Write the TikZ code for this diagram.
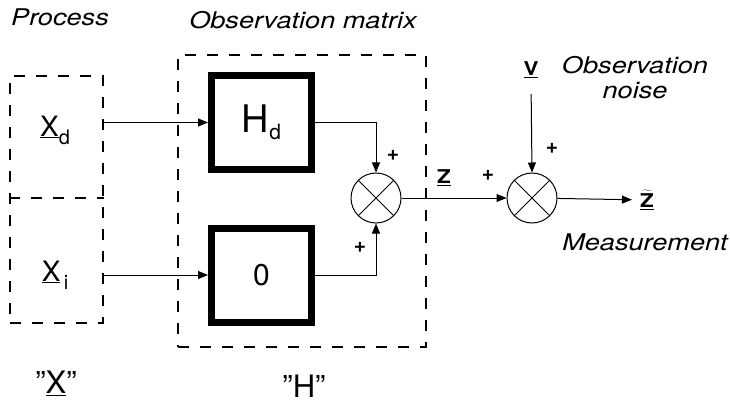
\documentclass[tikz,border=0pt]{standalone}
\usepackage{fontspec}
\setmainfont{TeX Gyre Heros}
\newfontfamily\notefont[FakeStretch=1.18]{TeX Gyre Heros}
\usetikzlibrary{arrows.meta}

\begin{document}
\begin{tikzpicture}[x=1pt,y=-1pt,>={Triangle[length=10pt,width=8pt]},
  dashbox/.style={draw,dash pattern=on 11pt off 11pt,line width=1.1pt,inner sep=0},
  blockbox/.style={draw,line width=7pt,minimum width=100,minimum height=94,inner sep=0,font=\fontsize{30}{30}\selectfont},
  sumnode/.style={circle,draw,line width=1pt,minimum size=50,inner sep=0,
    path picture={\draw[line width=1pt] (path picture bounding box.north west) -- (path picture bounding box.south east)
      (path picture bounding box.north east) -- (path picture bounding box.south west);}},
  note/.style={font=\notefont\itshape\fontsize{23}{25}\selectfont,align=center,inner sep=1pt},
  sign/.style={font=\bfseries\fontsize{21}{21}\selectfont,inner sep=0},
  sym/.style={inner sep=2pt},
  sig/.style={inner sep=2pt,font=\notefont\bfseries\fontsize{19}{19}\selectfont}]
  \useasboundingbox (0,0) rectangle (730,406);
  % headings
  \node[note] (process) at (60,17) {Process};
  \node[note] (obsmat) at (303,20) {Observation matrix};
  % dashed groups
  \node[dashbox,minimum width=93,minimum height=247] (xbox) at (56.5,199.5) {};
  \draw[dash pattern=on 11pt off 11pt,line width=1.1pt] (xbox.west |- 0,198) -- (xbox.east |- 0,198);
  \node[dashbox,minimum width=248,minimum height=292] (hbox) at (302,201) {};
  % states
  \node[sym,font=\fontsize{28}{28}\selectfont] (xd) at (55,130) {\underline{X}\raisebox{-8pt}{\fontsize{20}{20}\selectfont d}};
  \node[sym,font=\fontsize{28}{28}\selectfont] (xi) at (55,275) {\underline{X}\raisebox{-8pt}{\fontsize{20}{20}\selectfont\,i}};
  % blocks
  \node[blockbox] (hd) at (261.5,122.5) {\fontsize{38}{38}\selectfont H\raisebox{-7pt}{\fontsize{21}{21}\selectfont d}};
  \node[blockbox] (zero) at (261.5,275) {0};
  \node[sumnode] (sum1) at (376,198) {};
  \node[sumnode] (sum2) at (532,198) {};
  % signals
  \node[sig] (z) at (444,178) {\underline{Z}};
  \node[sig] (v) at (531,70) {\underline{V}};
  \node[sig] (zt) at (647,200) {$\underline{\widetilde{\mbox{Z}}}$};
  \node[note] (noise) at (635,78) {Observation\\noise};
  \node[note] (meas) at (645,242) {Measurement};
  % signs
  \node[sign] (p1) at (393,155) {+};
  \node[sign] (p2) at (360,247) {+};
  \node[sign] (p3) at (488,175) {+};
  \node[sign] (p4) at (552,148) {+};
  % group names
  \node[font=\fontsize{31}{31}\selectfont] (qx) at (56,383) {"\underline{X}"};
  \node[font=\fontsize{31}{31}\selectfont] (qh) at (304,386) {"H"};
  % connectors
  \draw[->,line width=1pt] (xbox.east |- hd) -- (hd.west);
  \draw[->,line width=1pt] (xbox.east |- zero) -- (zero.west);
  \draw[->,line width=1pt] (hd.east) -| (sum1.north);
  \draw[->,line width=1pt] (zero.east) -| (sum1.south);
  \draw[->,line width=1pt] (sum1) -- (sum2);
  \draw[->,line width=1pt,shorten <=14pt] (v.south) -- (sum2.north);
  \draw[->,line width=1pt,shorten >=6pt] (sum2) -- (zt);
\end{tikzpicture}
\end{document}
